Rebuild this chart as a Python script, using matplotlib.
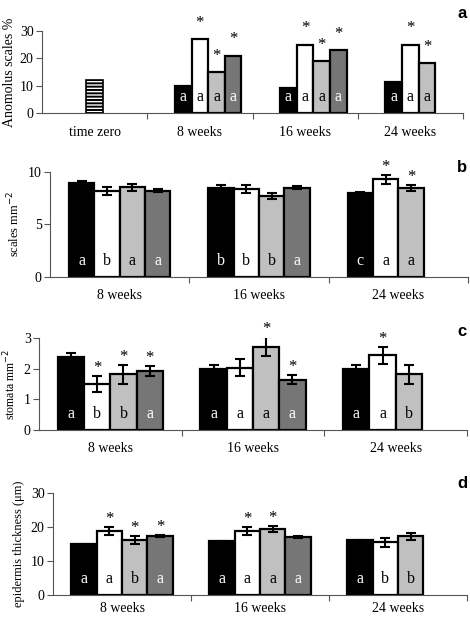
import numpy as np
import matplotlib.pyplot as plt

plt.rcParams['font.family'] = ['Liberation Serif', 'DejaVu Serif']

colors = ['#000000', '#ffffff', '#c0c0c0', '#767676']
txt_colors = ['white', 'black', 'black', 'white']

# panel a - anomolus scales (%)
a_groups = ['time zero', '8 weeks', '16 weeks', '24 weeks']
a_zero = 12
a_vals = [[10, 27, 15, 21], [9, 25, 19, 23], [11.5, 25, 18.2]]
a_letters = [['a', 'a', 'a', 'a'], ['a', 'a', 'a', 'a'], ['a', 'a', 'a']]
a_stars = [[0, 1, 1, 1], [0, 1, 1, 1], [0, 1, 1]]

groups = ['8 weeks', '16 weeks', '24 weeks']

# panel b - scales mm-2
b_vals = [[8.88, 8.19, 8.5, 8.19], [8.48, 8.35, 7.68, 8.48], [7.94, 9.27, 8.44]]
b_err = [[0.2, 0.37, 0.3, 0.13], [0.25, 0.4, 0.3, 0.12], [0.15, 0.4, 0.3]]
b_letters = [['a', 'b', 'a', 'a'], ['b', 'b', 'b', 'a'], ['c', 'a', 'a']]
b_stars = [[0, 0, 0, 0], [0, 0, 0, 0], [0, 1, 1]]

# panel c - stomata mm-2
c_vals = [[2.39, 1.5, 1.82, 1.93], [2.0, 2.04, 2.73, 1.64], [2.0, 2.44, 1.82]]
c_err = [[0.12, 0.27, 0.31, 0.16], [0.12, 0.27, 0.3, 0.15], [0.12, 0.28, 0.31]]
c_letters = [['a', 'b', 'b', 'a'], ['a', 'a', 'a', 'a'], ['a', 'a', 'b']]
c_stars = [[0, 1, 1, 1], [0, 0, 1, 1], [0, 1, 0]]

# panel d - epidermis thickness (um)
d_vals = [[14.95, 18.9, 16.3, 17.5], [15.8, 18.9, 19.5, 17.1], [16.1, 15.5, 17.3]]
d_err = [[0.2, 1.3, 1.2, 0.3], [0.2, 1.2, 1.0, 0.2], [0.2, 1.2, 1.0]]
d_letters = [['a', 'a', 'b', 'a'], ['a', 'a', 'a', 'a'], ['a', 'b', 'b']]
d_stars = [[0, 1, 1, 1], [0, 1, 1, 0], [0, 0, 0]]

fig = plt.figure(figsize=(4.7, 6.18), dpi=100)


def style_axis(ax, ngroups, labels, ymax, yticks, xpad=9):
    ax.set_xlim(0, ngroups)
    ax.set_ylim(0, ymax)
    ax.set_yticks(yticks)
    ax.set_xticks(np.arange(1, ngroups + 1))
    ax.set_xticklabels([])
    ax.set_xticks(np.arange(ngroups) + 0.5, minor=True)
    ax.set_xticklabels(labels, minor=True, fontsize=10)
    ax.tick_params(axis='x', which='minor', length=0, pad=xpad)
    ax.tick_params(axis='x', which='major', length=4, width=0.8, color='#555555', direction='out')
    ax.tick_params(axis='y', length=4, width=0.8, color='#555555', labelsize=10, pad=2)
    for s in ['top', 'right']:
        ax.spines[s].set_visible(False)
    for s in ['left', 'bottom']:
        ax.spines[s].set_color('#555555')
        ax.spines[s].set_linewidth(0.8)


def draw_bars(ax, gcenters, vals, errs, letters, stars, w, offsets, star_pad):
    for g, gc in enumerate(gcenters):
        for k, v in enumerate(vals[g]):
            x = gc + offsets[k] * w
            ax.bar(x, v, w, color=colors[k], edgecolor='black', linewidth=1.6, zorder=2)
            top = v
            if errs is not None:
                e = errs[g][k]
                ax.errorbar(x, v, yerr=e, color='black', capsize=3.5, elinewidth=1.5,
                            capthick=1.5, zorder=3)
                top = v + e
            ax.annotate(letters[g][k], (x, 0), xytext=(0, 11.5), textcoords='offset points',
                        ha='center', va='center', fontsize=11.5, color=txt_colors[k], zorder=4)
            if stars[g][k]:
                ax.annotate('*', (x, top), xytext=(0, star_pad), textcoords='offset points',
                            ha='center', va='bottom', fontsize=12, color='black',
                            annotation_clip=False, zorder=4)


# ---- panel a
ax = fig.add_axes([42 / 470, 1 - 113 / 618, 421 / 470, 82 / 618])
style_axis(ax, 4, a_groups, 30, [0, 10, 20, 30])
wa = 0.158
ax.bar(0.5, a_zero, wa, color='black', edgecolor='white', hatch='-----', linewidth=0, zorder=2)
ax.bar(0.5, a_zero, wa, color='none', edgecolor='black', linewidth=1.2, zorder=3)
draw_bars(ax, [1.5, 2.5, 3.5], a_vals, None, a_letters, a_stars, wa, [-1, 0, 1, 2], 6)
ax.set_ylabel('Anomolus scales %', fontsize=10, labelpad=3)
fig.text(467 / 470, 1 - 14 / 618, 'a', family='Liberation Sans', weight='bold', fontsize=12,
         ha='right', va='center')

# ---- panel b
ax = fig.add_axes([50 / 470, 1 - 276.7 / 618, 418 / 470, 105 / 618])
style_axis(ax, 3, groups, 10, [0, 5, 10])
draw_bars(ax, [0.5, 1.5, 2.5], b_vals, b_err, b_letters, b_stars, 0.182, [-1.5, -0.5, 0.5, 1.5], 0)
ax.set_ylabel('scales mm$^{-2}$', fontsize=9, labelpad=4)
fig.text(467 / 470, 1 - 168 / 618, 'b', family='Liberation Sans', weight='bold', fontsize=12,
         ha='right', va='center')

# ---- panel c
ax = fig.add_axes([39 / 470, 1 - 430 / 618, 428 / 470, 91.7 / 618])
style_axis(ax, 3, groups, 3, [0, 1, 2, 3])
draw_bars(ax, [0.5, 1.5, 2.5], c_vals, c_err, c_letters, c_stars, 0.184, [-1.5, -0.5, 0.5, 1.5], 0)
ax.set_ylabel('stomata mm$^{-2}$', fontsize=8.5, labelpad=4)
fig.text(467 / 470, 1 - 332 / 618, 'c', family='Liberation Sans', weight='bold', fontsize=12,
         ha='right', va='center')

# ---- panel d
ax = fig.add_axes([53 / 470, 1 - 595 / 618, 414 / 470, 101.7 / 618])
style_axis(ax, 3, groups, 30, [0, 10, 20, 30], xpad=5)
draw_bars(ax, [0.5, 1.5, 2.5], d_vals, d_err, d_letters, d_stars, 0.183, [-1.5, -0.5, 0.5, 1.5], 0)
ax.set_ylabel('epidermis thickness (\u03bcm)', fontsize=9, labelpad=4)
fig.text(467 / 470, 1 - 483 / 618, 'd', family='Liberation Sans', weight='bold', fontsize=12,
         ha='right', va='center')

fig.savefig('out.png', dpi=100)
